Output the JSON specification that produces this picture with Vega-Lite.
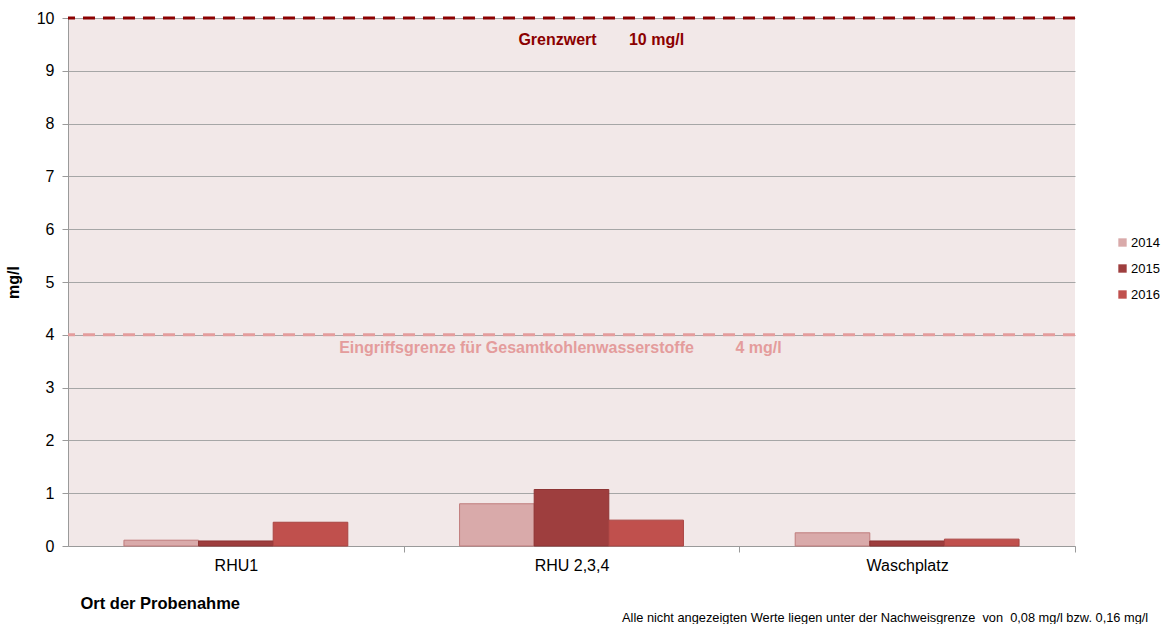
{
  "$schema": "https://vega.github.io/schema/vega-lite/v6.json",
  "width": 1007,
  "height": 528,
  "autosize": "none",
  "padding": {"left": 68, "top": 18, "right": 87, "bottom": 78},
  "background": "white",
  "config": {
    "font": "Liberation Sans",
    "view": {"fill": "#F2E8E8", "stroke": null},
    "axis": {"domainColor": "#9A9A9A", "tickColor": "#9A9A9A", "gridColor": "#A6A6A6", "labelColor": "#000000", "titleColor": "#000000", "labelFont": "Liberation Sans", "titleFont": "Liberation Sans"}
  },
  "title": {
    "text": "Alle nicht angezeigten Werte liegen unter der Nachweisgrenze\u00a0 von\u00a0 0,08 mg/l bzw. 0,16 mg/l",
    "orient": "bottom",
    "anchor": "start",
    "frame": "group",
    "dx": 554,
    "offset": 0,
    "fontSize": 12.8,
    "fontWeight": "normal",
    "font": "Liberation Sans",
    "color": "#000000"
  },
  "layer": [
    {
      "data": {
        "values": [
          {"Ort": "RHU1", "Jahr": "2014", "Wert": 0.11},
          {"Ort": "RHU1", "Jahr": "2015", "Wert": 0.095},
          {"Ort": "RHU1", "Jahr": "2016", "Wert": 0.45},
          {"Ort": "RHU 2,3,4", "Jahr": "2014", "Wert": 0.80},
          {"Ort": "RHU 2,3,4", "Jahr": "2015", "Wert": 1.07},
          {"Ort": "RHU 2,3,4", "Jahr": "2016", "Wert": 0.49},
          {"Ort": "Waschplatz", "Jahr": "2014", "Wert": 0.25},
          {"Ort": "Waschplatz", "Jahr": "2015", "Wert": 0.095},
          {"Ort": "Waschplatz", "Jahr": "2016", "Wert": 0.13}
        ]
      },
      "mark": {"type": "bar", "strokeWidth": 1},
      "encoding": {
        "x": {
          "field": "Ort",
          "type": "nominal",
          "scale": {"domain": ["RHU1", "RHU 2,3,4", "Waschplatz"], "paddingInner": 0.333, "paddingOuter": 0.1667},
          "axis": {
            "title": "Ort der Probenahme",
            "titleFontSize": 16.5,
            "titleFontWeight": "bold",
            "titleAnchor": "start",
            "titleAlign": "left",
            "titleBaseline": "middle",
            "titleX": 12,
            "titleY": 57,
            "labelAngle": 0,
            "labelFontSize": 16,
            "labelPadding": 5,
            "tickSize": 6,
            "bandPosition": 1,
            "tickExtra": false,
            "tickOffset": 56,
            "labelOffset": -56,
            "grid": false
          }
        },
        "xOffset": {"field": "Jahr", "type": "nominal", "scale": {"paddingInner": 0}},
        "y": {
          "field": "Wert",
          "type": "quantitative",
          "scale": {"domain": [0, 10], "nice": false},
          "axis": {
            "title": "mg/l",
            "titleFontSize": 16,
            "titleFontWeight": "bold",
            "titleX": -47,
            "values": [0, 1, 2, 3, 4, 5, 6, 7, 8, 9, 10],
            "labelFontSize": 16,
            "labelPadding": 8,
            "tickSize": 6,
            "grid": true
          }
        },
        "fill": {
          "field": "Jahr",
          "type": "nominal",
          "scale": {"domain": ["2014", "2015", "2016"], "range": ["#D9AAAA", "#9E3E3E", "#C0504D"]},
          "legend": {
            "title": null,
            "orient": "none",
            "legendX": 1048,
            "legendY": 218,
            "symbolType": "square",
            "symbolSize": 70,
            "symbolStrokeWidth": 0,
            "labelFontSize": 13,
            "labelColor": "#000000",
            "rowPadding": 12,
            "labelOffset": 2
          }
        },
        "stroke": {
          "field": "Jahr",
          "type": "nominal",
          "scale": {"domain": ["2014", "2015", "2016"], "range": ["#C07C7C", "#8E3434", "#A94442"]},
          "legend": null
        }
      }
    },
    {
      "data": {"values": [{"Grenze": 10}]},
      "mark": {"type": "rule", "color": "#8B0000", "strokeWidth": 3, "strokeDash": [12, 8]},
      "encoding": {"y": {"field": "Grenze", "type": "quantitative"}}
    },
    {
      "data": {"values": [{"Grenze": 4}]},
      "mark": {"type": "rule", "color": "#E49C9C", "strokeWidth": 3, "strokeDash": [12, 8]},
      "encoding": {"y": {"field": "Grenze", "type": "quantitative"}}
    },
    {
      "data": {"values": [{"Grenze": 10, "Ort": "RHU 2,3,4", "Text": "Grenzwert"}]},
      "mark": {"type": "text", "color": "#8B0000", "fontWeight": "bold", "fontSize": 16, "dx": -14, "dy": 22, "baseline": "middle"},
      "encoding": {"x": {"field": "Ort", "type": "nominal"}, "y": {"field": "Grenze", "type": "quantitative"}, "text": {"field": "Text"}}
    },
    {
      "data": {"values": [{"Grenze": 10, "Ort": "RHU 2,3,4", "Text": "10 mg/l"}]},
      "mark": {"type": "text", "color": "#8B0000", "fontWeight": "bold", "fontSize": 16, "dx": 85, "dy": 22, "baseline": "middle"},
      "encoding": {"x": {"field": "Ort", "type": "nominal"}, "y": {"field": "Grenze", "type": "quantitative"}, "text": {"field": "Text"}}
    },
    {
      "data": {"values": [{"Grenze": 4, "Ort": "RHU 2,3,4", "Text": "Eingriffsgrenze für Gesamtkohlenwasserstoffe"}]},
      "mark": {"type": "text", "color": "#E49C9C", "fontWeight": "bold", "fontSize": 16, "dx": -55, "dy": 13, "baseline": "middle"},
      "encoding": {"x": {"field": "Ort", "type": "nominal"}, "y": {"field": "Grenze", "type": "quantitative"}, "text": {"field": "Text"}}
    },
    {
      "data": {"values": [{"Grenze": 4, "Ort": "RHU 2,3,4", "Text": "4 mg/l"}]},
      "mark": {"type": "text", "color": "#E49C9C", "fontWeight": "bold", "fontSize": 16, "dx": 187, "dy": 13, "baseline": "middle"},
      "encoding": {"x": {"field": "Ort", "type": "nominal"}, "y": {"field": "Grenze", "type": "quantitative"}, "text": {"field": "Text"}}
    }
  ]
}
